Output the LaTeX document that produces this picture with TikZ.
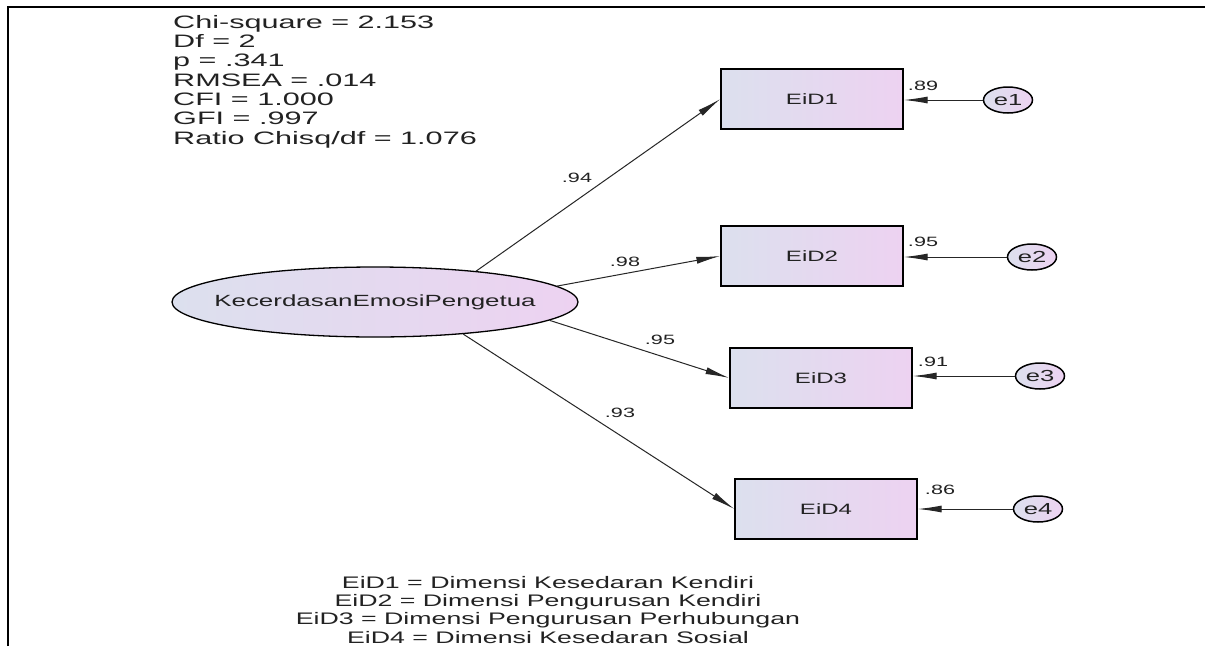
\documentclass[tikz,border=0pt]{standalone}
\usepackage{fontspec}
\setmainfont{Liberation Sans}
\newfontfamily\wf[FakeStretch=1.6]{Liberation Sans}
\newfontfamily\wfs[FakeStretch=1.7]{Liberation Sans}
\usetikzlibrary{arrows.meta,shapes.geometric}
\definecolor{fillL}{HTML}{DCE0EE}
\definecolor{fillR}{HTML}{EDD2F1}
\definecolor{ink}{HTML}{222222}
\begin{document}
\begin{tikzpicture}[x=1pt,y=-1pt,
  obs/.style={rectangle,draw=black,line width=1.3pt,left color=fillL,right color=fillR,minimum width=182pt,minimum height=60pt,inner sep=0pt,font=\wf\fontsize{15}{15}\selectfont,text=ink},
  err/.style={ellipse,draw=black,line width=1.5pt,left color=fillL,right color=fillR,minimum width=49pt,minimum height=26pt,inner sep=0pt,font=\wf\fontsize{16}{16}\selectfont,text=ink},
  conn/.style={draw=black!85,line width=1pt,-{Latex[length=24pt,width=7pt]}},
  lbl/.style={font=\wf\fontsize{13.5}{13.5}\selectfont,text=ink,inner sep=0pt}]
\useasboundingbox (0,0) rectangle (1205,646);
\fill[white] (0,0) rectangle (1205,646);
% frame
\draw[line width=2pt] (8,646) -- (8,7) -- (145,7);
\draw[line width=1.2pt] (145,7) -- (1075,7);
\draw[line width=2pt] (1075,7) -- (1205,7);
% stats
\node[anchor=north west,align=left,inner sep=0pt,text=ink,font=\wfs\fontsize{18}{19.3}\selectfont] (stats) at (173,15)
 {Chi-square = 2.153\\Df = 2\\p = .341\\RMSEA = .014\\CFI = 1.000\\GFI = .997\\Ratio Chisq/df = 1.076};
% latent
\node[ellipse,draw=black,line width=1.3pt,left color=fillL,right color=fillR,minimum width=406pt,minimum height=70pt,inner sep=0pt] (lat) at (375,302) {};
\node[inner sep=0pt,text=ink,font=\wf\fontsize{16.2}{16.2}\selectfont] (latt) at (lat.center) {KecerdasanEmosiPengetua};
% observed
\node[obs] (b1) at (812,99) {EiD1};
\node[obs] (b2) at (812,256) {EiD2};
\node[obs] (b3) at (821,378) {EiD3};
\node[obs] (b4) at (826,509) {EiD4};
% errors
\node[err] (e1) at (1008,100) {e1};
\node[err] (e2) at (1032,257) {e2};
\node[err] (e3) at (1040,376) {e3};
\node[err] (e4) at (1038,509) {e4};
% paths
\draw[conn] (lat.17) -- (b1.west);
\draw[conn] (lat.5) -- (b2.west);
\draw[conn] (lat.-6) -- (b3.west);
\draw[conn] (lat.-20) -- (b4.west);
\draw[conn] (e1.west) -- (e1.west -| b1.east);
\draw[conn] (e2.west) -- (e2.west -| b2.east);
\draw[conn] (e3.west) -- (e3.west -| b3.east);
\draw[conn] (e4.west) -- (e4.west -| b4.east);
% labels
\node[lbl] (l1) at (577,178) {.94};
\node[lbl] (l2) at (625,262) {.98};
\node[lbl] (l3) at (660,340) {.95};
\node[lbl] (l4) at (620,413) {.93};
\node[lbl] (r1) at (923,86) {.89};
\node[lbl] (r2) at (923,242) {.95};
\node[lbl] (r3) at (933,362) {.91};
\node[lbl] (r4) at (940,490) {.86};
% legend
\node[anchor=north,align=center,inner sep=0pt,text=ink,font=\wf\fontsize{16.7}{18.3}\selectfont] (leg) at (548,576)
 {EiD1 = Dimensi Kesedaran Kendiri\\EiD2 = Dimensi Pengurusan Kendiri\\EiD3 = Dimensi Pengurusan Perhubungan\\EiD4 = Dimensi Kesedaran Sosial};
\end{tikzpicture}
\end{document}
